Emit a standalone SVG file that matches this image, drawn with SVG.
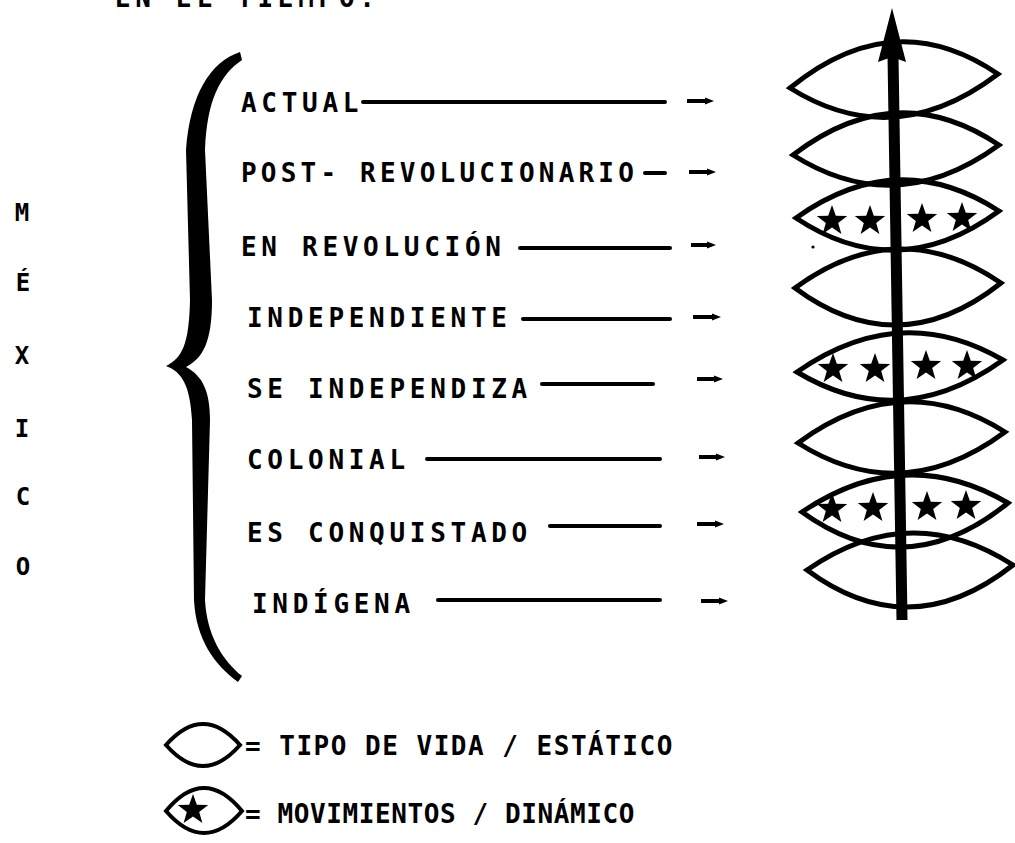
<svg xmlns="http://www.w3.org/2000/svg" width="1015" height="843" viewBox="0 0 1015 843">
<style>
  .lbl { font-family: "DejaVu Sans Mono", "Liberation Mono", monospace; font-weight: bold; font-size: 26px; letter-spacing: 4.7px; fill: #000; }
  .side { font-family: "DejaVu Sans Mono", "Liberation Mono", monospace; font-weight: bold; font-size: 24px; fill: #000; text-anchor: middle; }
  .leg { font-family: "DejaVu Sans Mono", "Liberation Mono", monospace; font-weight: bold; font-size: 26px; fill: #000; }
  .ln { stroke: #000; stroke-width: 4; stroke-linecap: round; fill: none; }
  .arr { stroke: #000; stroke-width: 4; fill: none; marker-end: url(#ah); }
  .lens { stroke: #000; stroke-width: 5; fill: none; stroke-linejoin: miter; }
</style>
<defs>
  <marker id="ah" markerUnits="userSpaceOnUse" markerWidth="12" markerHeight="12" refX="2" refY="5" orient="auto">
    <path d="M0,1.5 L9,5 L0,8.5 Z" fill="#000"/>
  </marker>
  <path id="star" d="M0,-16 L3.82,-5.26 L15.22,-4.94 L6.18,2.01 L9.40,12.94 L0,6.5 L-9.40,12.94 L-6.18,2.01 L-15.22,-4.94 L-3.82,-5.26 Z" fill="#000"/>
</defs>
<rect width="1015" height="843" fill="#fff"/>

<g id="title">
  <text class="lbl" x="115" y="7">EN EL TIEMPO:</text>
</g>

<g id="mexico">
  <text class="side" x="22" y="221">M</text>
  <text class="side" x="23" y="291">É</text>
  <text class="side" x="22" y="364">X</text>
  <text class="side" x="22" y="437">I</text>
  <text class="side" x="23" y="505">C</text>
  <text class="side" x="23" y="575">O</text>
</g>

<g id="brace">
  <path d="M240 52 C210 62 190 95 186 150 L190 300 C189 345 182 358 166 366 C182 372 190 385 192 420 L194 600 C196 640 215 665 238 682 L242 676 C222 660 207 635 205 600 L210 420 C210 392 203 376 186 367 C203 358 212 342 212 300 L205 150 C207 100 220 75 242 60 Z" fill="#000"/>
</g>

<g id="labels">
  <g id="n-actual"><text class="lbl" x="241" y="112">ACTUAL</text></g>
  <g id="n-post"><text class="lbl" x="241" y="182" style="letter-spacing:4.2px">POST- REVOLUCIONARIO</text></g>
  <g id="n-enrev"><text class="lbl" x="241" y="256">EN REVOLUCIÓN</text></g>
  <g id="n-indep"><text class="lbl" x="247" y="327">INDEPENDIENTE</text></g>
  <g id="n-seindep"><text class="lbl" x="247" y="398">SE INDEPENDIZA</text></g>
  <g id="n-colonial"><text class="lbl" x="247" y="469">COLONIAL</text></g>
  <g id="n-conq"><text class="lbl" x="247" y="542">ES CONQUISTADO</text></g>
  <g id="n-indigena"><text class="lbl" x="252" y="613">INDÍGENA</text></g>
</g>

<g id="connectors">
  <line class="ln" x1="363" y1="102" x2="665" y2="102"/>
  <line class="ln" x1="645" y1="173" x2="665" y2="173"/>
  <line class="ln" x1="520" y1="248" x2="670" y2="248"/>
  <line class="ln" x1="523" y1="319" x2="670" y2="319"/>
  <line class="ln" x1="542" y1="384" x2="653" y2="384"/>
  <line class="ln" x1="427" y1="459" x2="660" y2="459"/>
  <line class="ln" x1="550" y1="526" x2="660" y2="526"/>
  <line class="ln" x1="438" y1="600" x2="660" y2="600"/>

  <line class="arr" x1="687" y1="101" x2="707" y2="101"/>
  <line class="arr" x1="689" y1="172" x2="709" y2="172"/>
  <line class="arr" x1="691" y1="245" x2="709" y2="245"/>
  <line class="arr" x1="693" y1="317" x2="714" y2="317"/>
  <line class="arr" x1="697" y1="379" x2="716" y2="379"/>
  <line class="arr" x1="699" y1="457" x2="718" y2="457"/>
  <line class="arr" x1="697" y1="524" x2="717" y2="524"/>
  <line class="arr" x1="701" y1="601" x2="721" y2="601"/>
</g>

<g id="stack">
  <path class="lens" d="M790 88 Q894 3 998 74 Q894 153 790 88 Z"/>
  <path class="lens" d="M793 155 Q896 76 999 145 Q896 220 793 155 Z"/>
  <path class="lens" d="M796 218 Q897.5 145.5 999 211 Q897.5 285.5 796 218 Z"/>
  <path class="lens" d="M795 288 Q898 212.5 1001 283 Q898 364.5 795 288 Z"/>
  <path class="lens" d="M797 372 Q900 300 1003 360 Q900 434 797 372 Z"/>
  <path class="lens" d="M798 443 Q901.5 366.5 1005 432 Q901.5 508.5 798 443 Z"/>
  <path class="lens" d="M802 512 Q905 442.5 1008 503 Q905 586.5 802 512 Z"/>
  <path class="lens" d="M807 570 Q910 498.5 1013 565 Q910 646.5 807 570 Z"/>

  <use href="#star" x="832" y="221"/>
  <use href="#star" x="870" y="221"/>
  <use href="#star" x="922" y="219"/>
  <use href="#star" x="962" y="218"/>
  <use href="#star" x="833" y="369"/>
  <use href="#star" x="875" y="369"/>
  <use href="#star" x="926" y="366"/>
  <use href="#star" x="967" y="366"/>
  <use href="#star" x="832" y="509"/>
  <use href="#star" x="873" y="508"/>
  <use href="#star" x="927" y="507"/>
  <use href="#star" x="966" y="506"/>

  <line x1="893" y1="56" x2="902" y2="620" stroke="#000" stroke-width="11"/>
  <path d="M892 8 L906 62 L892 57 L878 62 Z" fill="#000"/>
  <circle cx="813" cy="247" r="1.6" fill="#000"/>
</g>

<g id="legend">
  <g id="leg-static">
    <path class="lens" style="stroke-width:4" d="M166 745 Q203 703 240 745 Q203 787 166 745 Z"/>
    <text class="leg" x="245" y="755" style="letter-spacing:1.5px">= TIPO DE VIDA / ESTÁTICO</text>
  </g>
  <g id="leg-dynamic">
    <path class="lens" style="stroke-width:4" d="M166 811 Q204 765 242 811 Q204 855 166 811 Z"/>
    <use href="#star" x="193" y="810"/>
    <text class="leg" x="245" y="823" style="letter-spacing:0.6px">= MOVIMIENTOS / DINÁMICO</text>
  </g>
</g>
</svg>
